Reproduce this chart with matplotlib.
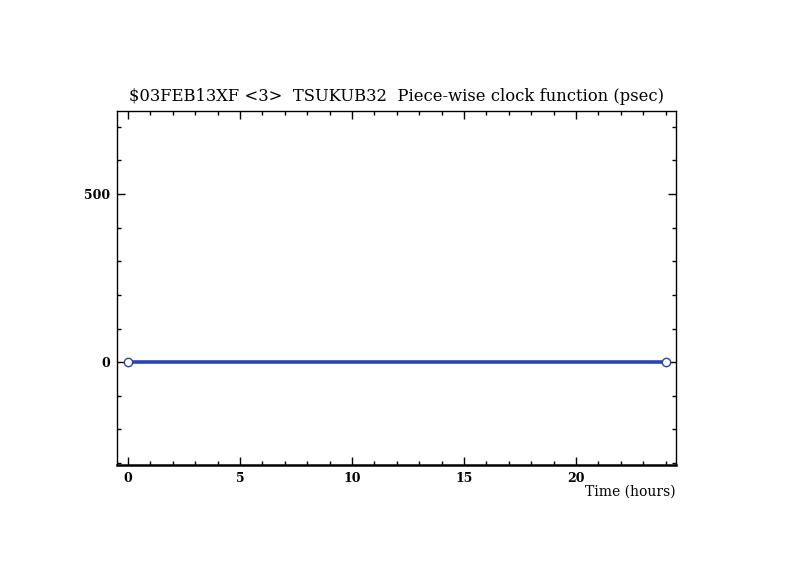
import numpy as np
import matplotlib.pyplot as plt
from matplotlib.ticker import MultipleLocator

# clock segment endpoints
hours = [0.0, 24.0]
clock_psec = [0.0, 0.0]

title = "$03FEB13XF <3>  TSUKUB32  Piece-wise clock function (psec)"
xlabel = "Time (hours)"

fig = plt.figure(figsize=(7.94, 5.77), dpi=100)
ax = fig.add_axes([0.1474, 0.1941, 0.704, 0.6135])

ax.plot(hours, clock_psec, color='#2a44b0', lw=2.6, zorder=2)
ax.plot(hours, clock_psec, 'o', ms=6, mfc='white', mec='#2a44b0', mew=1.0, zorder=3)

ax.set_xlim(-0.49, 24.46)
ax.set_ylim(-306, 747)
ax.xaxis.set_major_locator(MultipleLocator(5))
ax.xaxis.set_minor_locator(MultipleLocator(1))
ax.yaxis.set_major_locator(MultipleLocator(500))
ax.yaxis.set_minor_locator(MultipleLocator(100))
ax.tick_params(which='both', direction='in', top=True, right=True, colors='black',
               labelsize=9)
ax.tick_params(which='major', length=6, width=1)
ax.tick_params(which='minor', length=3, width=1)
ax.tick_params(axis='y', which='major', pad=5)
ax.tick_params(axis='x', which='major', pad=5)
for s in ax.spines.values():
    s.set_linewidth(1.0)
ax.spines['bottom'].set_linewidth(1.8)

for lab in ax.get_xticklabels() + ax.get_yticklabels():
    lab.set_family('DejaVu Serif')
    lab.set_fontweight('bold')

ax.set_title(title, fontsize=11.8, family='DejaVu Serif', pad=7)
ax.text(1.0, -0.055, xlabel, transform=ax.transAxes, ha='right', va='top',
        fontsize=10, family='DejaVu Serif')

fig.savefig("out.png", dpi=100)
